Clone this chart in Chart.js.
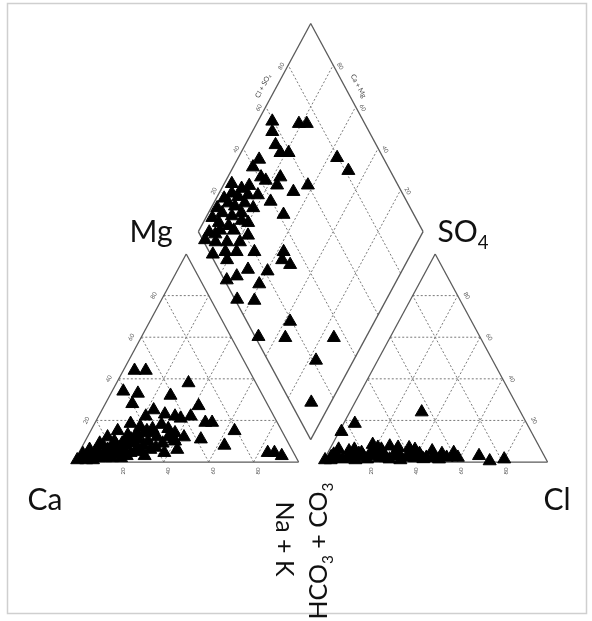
<!DOCTYPE html>
<html>
<head>
<meta charset="utf-8">
<script src="https://cdn.jsdelivr.net/npm/chart.js@4/dist/chart.umd.min.js"></script>
<style>
  html, body { margin: 0; padding: 0; background: #fff; }
  canvas { display: block; }
</style>
</head>
<body>
<canvas id="piper" width="592" height="621"></canvas>
<script>
// Cation triangle, one entry per sample: [Mg %, Na+K %]  (Ca % = 100 - Mg - Na+K)
const cations = [
  [44, 5], [44, 10], [38, 32], [34, 5], [33, 12], [32, 27], [28, 12], [27, 42],
  [19, 49], [19, 52], [15, 64], [11, 51], [8, 63], [6, 43], [4.5, 84], [4.5, 87], [3, 91],
  [25, 23], [23, 29], [22, 34], [21, 37], [22, 41], [22, 21], [18.5, 16], [15, 12],
  [12, 9], [9, 7], [6, 4], [4, 2], [15, 25], [12, 31], [9, 35], [11, 39], [12, 43],
  [11, 23], [8, 19], [4.5, 15], [3, 10], [4.5, 23], [6, 31], [3, 30], [4.5, 38],
  [2, 7], [2, 13], [2, 20], [3, 4], [8, 9], [10, 13], [13, 17.5], [17, 21], [5, 7],
  [1.5, 3], [7, 17], [16, 34], [1, 1], [2, 10], [6, 12], [10, 28], [14, 28], [7, 25],
  [1, 5], [2, 4], [3, 7], [4, 9], [5, 11], [6, 14], [7, 14], [8, 15], [9, 17], [10, 18],
  [11, 20], [12, 21], [13, 22], [3, 14], [4, 18], [5, 20], [1, 8], [2, 16], [3, 22],
  [6, 25], [8, 27], [9, 22], [14, 24], [16, 27], [18, 30], [12, 36], [14, 38], [10, 40],
  [7, 33], [5, 27]
];

// Anion triangle, one entry per sample: [SO4 %, Cl %]  (HCO3+CO3 % = 100 - SO4 - Cl)
const anions = [
  [18.5, 5], [14.6, 1], [24, 32], [3, 68], [0.5, 74], [1.4, 80], [8.4, 18], [7.6, 26],
  [6.8, 35], [5.3, 46], [4.5, 56], [5.3, 9], [3.7, 3], [1, 0.5], [4.5, 15], [6.1, 23],
  [3, 33], [3, 42], [2.2, 54], [2.2, 59], [1.4, 8], [1.4, 19], [1.4, 29], [1.4, 51],
  [6.1, 4], [6.1, 11], [3.7, 23], [2.2, 36], [2.2, 45], [2.5, 2.5], [5.3, 30], [2.5, 17],
  [1, 3], [2, 6], [3, 10], [2, 12], [4, 14], [3, 20], [4, 25], [2, 27], [3, 31], [4, 37],
  [2, 40], [3, 48], [1.5, 44], [4, 51], [1, 14], [5, 19], [7, 21], [2, 24], [6, 38],
  [4, 41], [1, 34], [2, 49], [3, 57], [7, 30]
];

// Diamond field, one entry per sample: [Ca+Mg %, Cl+SO4 %]
const diamond = [
  [93.6, 59.4], [91.1, 56.9], [81.2, 70.7], [77.7, 74.2], [86.5, 55.2], [82.4, 55.5],
  [78.8, 59.1], [90.3, 44.4], [91.2, 39.8], [85.2, 41], [82.3, 42.3], [76.6, 49.6],
  [76.1, 46.2], [67.3, 51.9], [62.4, 59.9], [56, 79.5], [47.9, 81.4], [75.1, 39.4],
  [66.2, 42], [94.3, 24.1], [90.6, 26.2], [86.7, 30.9], [82.3, 35.3], [93.4, 20.3],
  [89.8, 22.4], [86.2, 27.5], [93.9, 15.1], [88.8, 18.7], [85.3, 23.7], [93, 11.3],
  [87.9, 14.9], [80, 24.3], [95, 4.7], [95, 1], [89.8, 5.2], [77, 21.2], [79, 16],
  [70.2, 20.1], [57.2, 33.1], [83.1, 7.2], [88.1, 1], [80.4, 6], [72.2, 6.4], [75.7, 1],
  [68.8, 13], [60.3, 14.5], [59.7, 21.3], [55.9, 30.5], [51.2, 32.9], [66.4, 1],
  [58.5, 8.4], [37.6, 19.2], [35.8, 13.2], [48, 1.5], [14.2, 34.8], [16.7, 21.4], [8.7, 9.2],
  [97.3, 14.1], [96.5, 19.5], [91.1, 29.6], [97.1, 9.6], [90.6, 10], [84.5, 16.1],
  [83.4, 21.9], [81.3, 30.1], [91.8, 7], [84.7, 10.3], [78.1, 12.2], [96.6, 26.4], [88.4, 33.7]
];

// Percentage levels of the dashed grid and their tick labels
const tickLevels = [20, 40, 60, 80];
const tickLabels = ['20', '40', '60', '80'];

// ---- Piper geometry (triangle side = 100 units) ----
const H = Math.sqrt(3) / 2;
const GAP = 10.76;            // space between the two triangles
const OFF = 100 + GAP;        // left corner of the anion triangle

const cationXY = (mg, nak) => ({ x: nak + mg / 2, y: mg * H });
const anionXY = (so4, cl) => ({ x: OFF + cl + so4 / 2, y: so4 * H });
const diamondXY = (camg, clso4) => {
  const a = 100 - camg;              // Na+K share
  const t = clso4 - a + OFF;         // distance travelled up the diamond
  return { x: a + t / 2, y: t * H };
};

const FONT = 'Lato, "Open Sans", sans-serif';

// Frame, outlines, dashed grid and tick labels
const piperFrame = {
  id: 'piperFrame',
  beforeDatasetsDraw(chart) {
    const { ctx } = chart;
    const X = v => chart.scales.x.getPixelForValue(v);
    const Y = v => chart.scales.y.getPixelForValue(v);
    const P = p => [X(p.x), Y(p.y)];

    const line = (p, q, dashed) => {
      const [x1, y1] = P(p), [x2, y2] = P(q);
      ctx.save();
      ctx.beginPath();
      ctx.strokeStyle = dashed ? '#7a7a7a' : '#5a5a5a';
      ctx.lineWidth = dashed ? 1 : 1.3;
      ctx.setLineDash(dashed ? [2, 2] : []);
      ctx.moveTo(x1, y1);
      ctx.lineTo(x2, y2);
      ctx.stroke();
      ctx.restore();
    };
    const poly = pts => {
      for (let i = 0; i < pts.length; i++) line(pts[i], pts[(i + 1) % pts.length], false);
    };
    const tiny = (text, p, dx, dy, rot) => {
      const [x, y] = P(p);
      ctx.save();
      ctx.translate(x + dx, y + dy);
      ctx.rotate(rot);
      ctx.fillStyle = '#555';
      ctx.font = '6px ' + FONT;
      ctx.textAlign = 'center';
      ctx.textBaseline = 'middle';
      ctx.fillText(text, 0, 0);
      ctx.restore();
    };

    // outer frame
    ctx.save();
    ctx.strokeStyle = '#cfcfcf';
    ctx.lineWidth = 1.5;
    ctx.strokeRect(7.5, 3.5, 579, 610);
    ctx.restore();

    // dashed grids
    tickLevels.forEach(k => {
      // cation triangle
      line(cationXY(k, 0), cationXY(k, 100 - k), true);
      line(cationXY(0, k), cationXY(100 - k, k), true);
      line(cationXY(0, 100 - k), cationXY(100 - k, 0), true);
      // anion triangle
      line(anionXY(k, 0), anionXY(k, 100 - k), true);
      line(anionXY(0, k), anionXY(100 - k, k), true);
      line(anionXY(0, 100 - k), anionXY(100 - k, 0), true);
      // diamond
      line(diamondXY(k, 0), diamondXY(k, 100), true);
      line(diamondXY(0, k), diamondXY(100, k), true);
    });

    // outlines
    poly([cationXY(0, 0), cationXY(0, 100), cationXY(100, 0)]);
    poly([anionXY(0, 0), anionXY(0, 100), anionXY(100, 0)]);
    poly([diamondXY(100, 0), diamondXY(100, 100), diamondXY(0, 100), diamondXY(0, 0)]);

    // tick labels
    const up = -62 * Math.PI / 180, dn = 62 * Math.PI / 180, vert = -Math.PI / 2;
    tickLevels.forEach((k, i) => {
      const lbl = tickLabels[i];
      tiny(lbl, cationXY(k, 0), -10, 0, up);                 // Mg
      tiny(lbl, cationXY(0, k), 4, 9, vert);                  // Ca (base)
      tiny(lbl, anionXY(k, 100 - k), 9, 0, dn);              // SO4
      tiny(lbl, anionXY(0, k), 3, 9, vert);                   // Cl (base)
      tiny(lbl, diamondXY(100, k), -7, 1, up);               // Cl+SO4
      tiny(lbl, diamondXY(k, 100), 7, 1, dn);                // Ca+Mg
    });
  },
  afterDraw(chart) {
    const { ctx } = chart;
    const X = v => chart.scales.x.getPixelForValue(v);
    const Y = v => chart.scales.y.getPixelForValue(v);

    // diamond axis titles
    const angled = (text, p, dx, dy, rot) => {
      ctx.save();
      ctx.translate(X(p.x) + dx, Y(p.y) + dy);
      ctx.rotate(rot);
      ctx.fillStyle = '#444';
      ctx.font = '7px ' + FONT;
      ctx.textAlign = 'center';
      ctx.textBaseline = 'middle';
      ctx.fillText(text, 0, 0);
      ctx.restore();
    };
    angled('Cl + SO\u2084', diamondXY(100, 70), -14, 0, -62 * Math.PI / 180);
    angled('Ca + Mg', diamondXY(70, 100), 14, 0, 62 * Math.PI / 180);

    // rich text with subscripts, centred on the origin
    const rich = (segs, size) => {
      let w = 0;
      const parts = segs.map(s => {
        ctx.font = (s.sub ? size * 0.62 : size) + 'px ' + FONT;
        const m = ctx.measureText(s.t).width;
        const part = { ...s, x: w, w: m };
        w += m;
        return part;
      });
      parts.forEach(s => {
        ctx.font = (s.sub ? size * 0.62 : size) + 'px ' + FONT;
        ctx.fillText(s.t, s.x - w / 2, s.sub ? size * 0.22 : 0);
      });
    };

    ctx.save();
    ctx.fillStyle = '#111';
    ctx.textBaseline = 'alphabetic';
    ctx.textAlign = 'left';
    const S = 30;

    // vertex labels
    ctx.save(); ctx.translate(151, 242); rich([{ t: 'Mg' }], S); ctx.restore();
    ctx.save(); ctx.translate(463, 242); rich([{ t: 'SO' }, { t: '4', sub: true }], S); ctx.restore();
    ctx.save(); ctx.translate(45, 510); rich([{ t: 'Ca' }], S); ctx.restore();
    ctx.save(); ctx.translate(557, 510); rich([{ t: 'Cl' }], S); ctx.restore();

    // vertical labels between the triangles
    const V = 25;
    ctx.save();
    ctx.translate(276, 539);
    ctx.rotate(Math.PI / 2);
    rich([{ t: 'Na + K' }], V);
    ctx.restore();

    ctx.save();
    ctx.translate(327, 551);
    ctx.rotate(-Math.PI / 2);
    rich([{ t: 'HCO' }, { t: '3', sub: true }, { t: ' + CO' }, { t: '3', sub: true }], V);
    ctx.restore();

    ctx.restore();
  }
};

const marker = {
  pointStyle: 'triangle',
  pointRadius: 7.5,
  pointHoverRadius: 7.5,
  backgroundColor: '#000',
  borderColor: '#000',
  borderWidth: 1,
  showLine: false
};

new Chart(document.getElementById('piper'), {
  type: 'scatter',
  data: {
    datasets: [
      { label: 'Cations', data: cations.map(([mg, nak]) => cationXY(mg, nak)), ...marker },
      { label: 'Anions', data: anions.map(([so4, cl]) => anionXY(so4, cl)), ...marker },
      { label: 'Diamond', data: diamond.map(([camg, clso4]) => diamondXY(camg, clso4)), ...marker }
    ]
  },
  options: {
    responsive: false,
    animation: false,
    devicePixelRatio: 1,
    layout: { padding: 0 },
    clip: false,
    plugins: { legend: { display: false }, tooltip: { enabled: false }, title: { display: false } },
    scales: {
      x: { type: 'linear', display: false, min: -29.08, max: 226.75 },
      y: { type: 'linear', display: false, min: -62.63, max: 188.79 }
    }
  },
  plugins: [piperFrame]
});
</script>
</body>
</html>
